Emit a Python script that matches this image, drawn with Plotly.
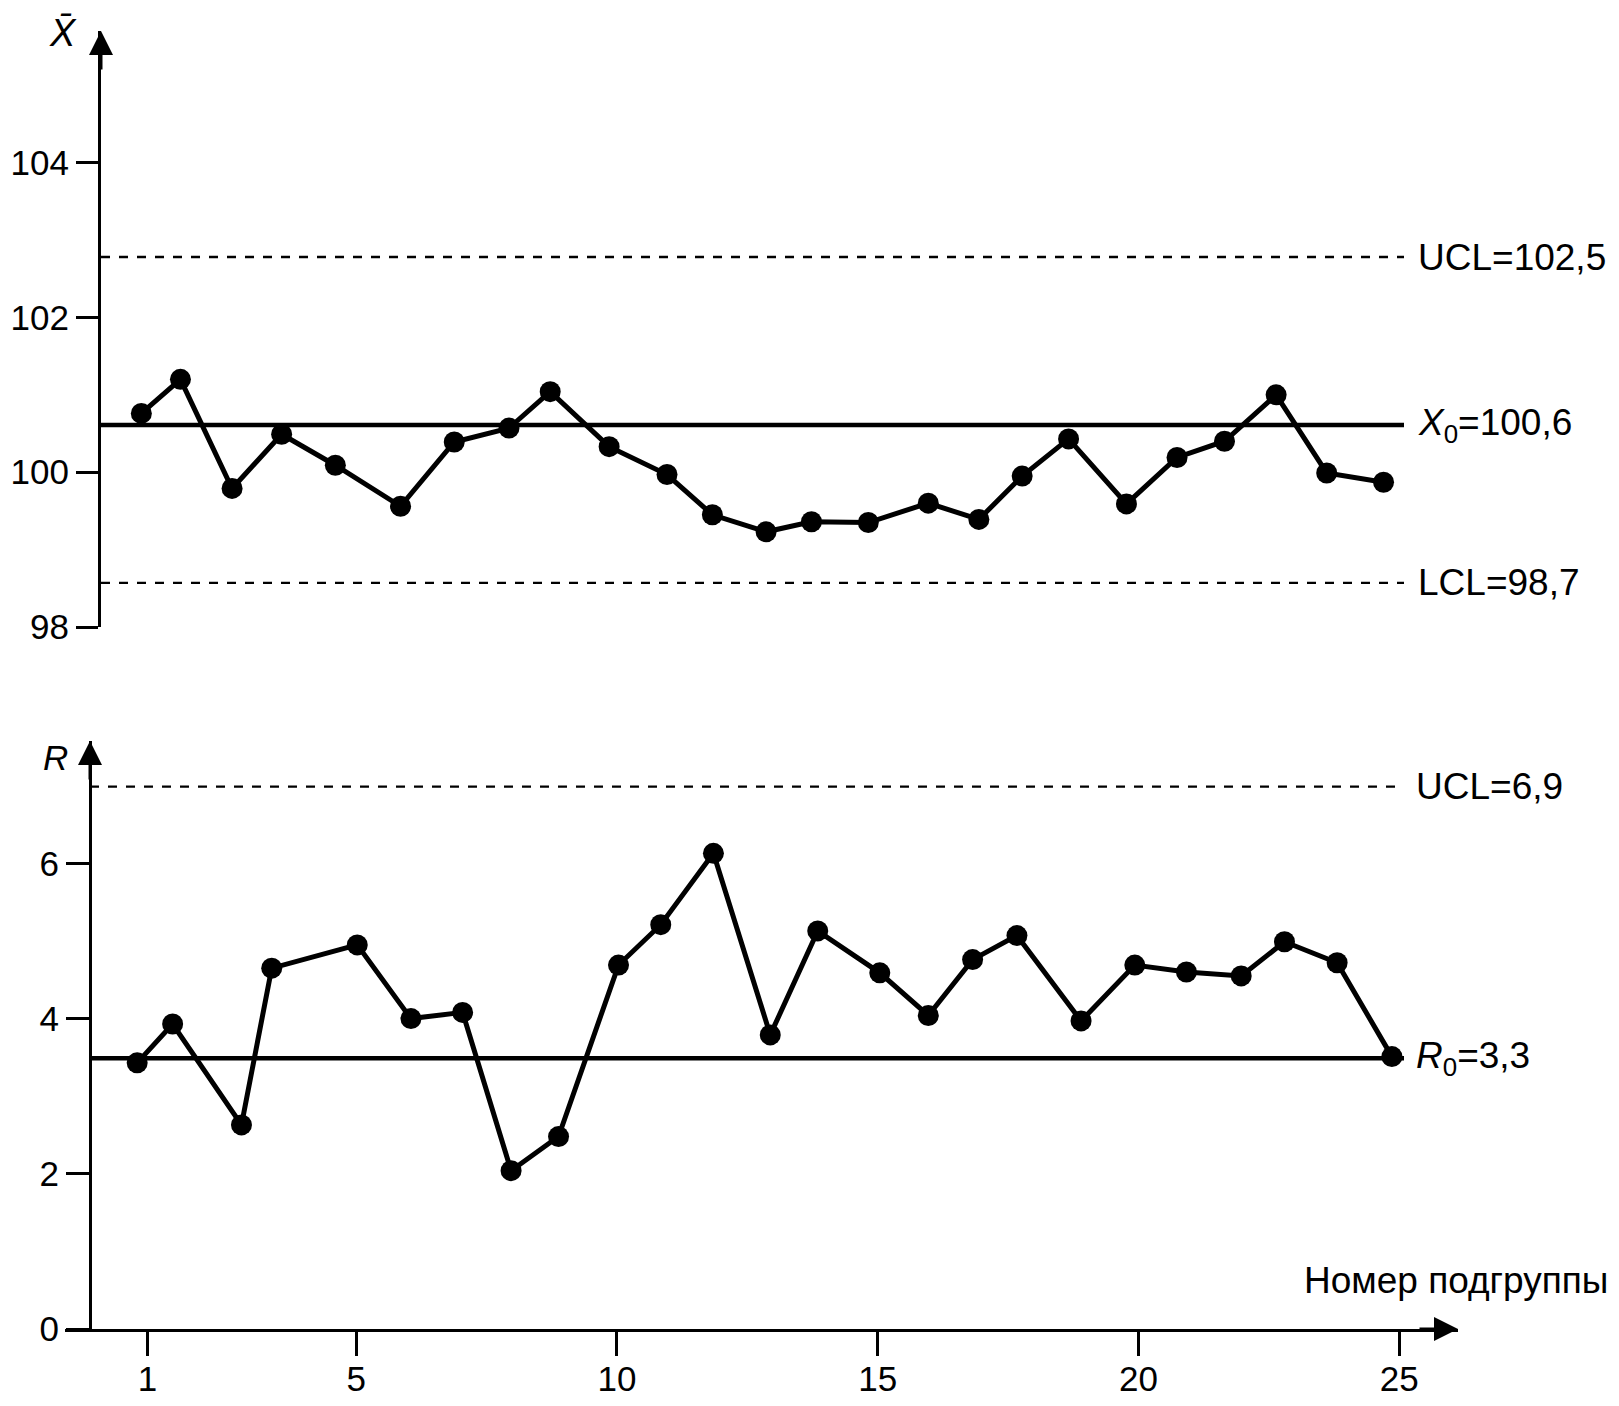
import plotly.graph_objects as go

W, H = 1619, 1406

# ---- data ----
xbar_groups = [0.88, 1.63, 2.62, 3.57, 4.60, 5.85, 6.88, 7.93, 8.72, 9.85, 10.96, 11.83, 12.86,
               13.73, 14.82, 15.97, 16.94, 17.77, 18.66, 19.77, 20.74, 21.65, 22.64, 23.61, 24.70]
xbar_values = [100.76, 101.2, 99.79, 100.49, 100.09, 99.56, 100.39, 100.57, 101.04, 100.33, 99.97,
               99.45, 99.23, 99.36, 99.35, 99.6, 99.39, 99.95, 100.43, 99.59, 100.19, 100.4, 101.0,
               99.99, 99.87]
r_groups = [0.80, 1.48, 2.80, 3.38, 5.02, 6.05, 7.04, 7.97, 8.88, 10.03, 10.84, 11.85, 12.94,
            13.85, 15.04, 15.97, 16.82, 17.67, 18.90, 19.93, 20.92, 21.97, 22.80, 23.81, 24.86]
r_values = [3.43, 3.93, 2.63, 4.65, 4.95, 4.0, 4.08, 2.04, 2.48, 4.69, 5.21, 6.13, 3.79, 5.13,
            4.59, 4.04, 4.76, 5.07, 3.97, 4.69, 4.6, 4.55, 4.99, 4.72, 3.51]

xbar_limits = {"ucl": 102.78, "center": 100.61, "lcl": 98.57}
xbar_labels = {"ucl": "UCL=102,5", "center": "<i>X</i><sub>0</sub>=100,6", "lcl": "LCL=98,7"}
r_limits = {"ucl": 6.99, "center": 3.49}
r_labels = {"ucl": "UCL=6,9", "center": "<i>R</i><sub>0</sub>=3,3"}

x_ticks = [1, 5, 10, 15, 20, 25]
xbar_ticks = [98, 100, 102, 104]
r_ticks = [0, 2, 4, 6]
x_title = "Номер подгруппы"

# ---- pixel calibration ----
PX1, PXU = 147.6, 52.15          # pixel of subgroup 1, pixels per subgroup


def n_at(px):
    return 1 + (px - PX1) / PXU


top_left, top_right = 101, 1410
bot_yaxis_px = 90
bot_left, bot_right = 65, 1458
line_end = n_at(1404)

top_y0px, top_y1px = 627, 31      # 98 at 627, arrow tip 31
top_ppu = 77.4
bot_y0px, bot_y1px = 1329, 741
bot_ppu = 77.6

FONT = "Liberation Sans, Arial, sans-serif"
LBL = 37

fig = go.Figure()

fig.add_trace(go.Scatter(
    x=xbar_groups, y=xbar_values, mode="lines+markers",
    line=dict(color="black", width=5),
    marker=dict(color="black", size=21),
    xaxis="x", yaxis="y", showlegend=False, cliponaxis=False))

fig.add_trace(go.Scatter(
    x=r_groups, y=r_values, mode="lines+markers",
    line=dict(color="black", width=5),
    marker=dict(color="black", size=21),
    xaxis="x2", yaxis="y2", showlegend=False, cliponaxis=False))

shapes = []
for key, dash, wdt in (("ucl", "dash", 2.4), ("center", "solid", 4.5), ("lcl", "dash", 2.4)):
    shapes.append(dict(type="line", xref="x", yref="y", x0=n_at(top_left), x1=line_end,
                       y0=xbar_limits[key], y1=xbar_limits[key],
                       line=dict(color="black", width=wdt, dash=dash), layer="below"))
for key, dash, wdt in (("ucl", "dash", 2.4), ("center", "solid", 4.5)):
    shapes.append(dict(type="line", xref="x2", yref="y2", x0=n_at(bot_yaxis_px), x1=line_end,
                       y0=r_limits[key], y1=r_limits[key],
                       line=dict(color="black", width=wdt, dash=dash), layer="below"))

annotations = []
for key in ("ucl", "center", "lcl"):
    annotations.append(dict(xref="paper", yref="y", x=1416 / W, y=xbar_limits[key],
                            xanchor="left", yanchor="middle", showarrow=False,
                            text=xbar_labels[key], font=dict(family=FONT, size=LBL, color="black")))
for key in ("ucl", "center"):
    annotations.append(dict(xref="paper", yref="y2", x=1414 / W, y=r_limits[key],
                            xanchor="left", yanchor="middle", showarrow=False,
                            text=r_labels[key], font=dict(family=FONT, size=LBL, color="black")))

# axis arrows
annotations.append(dict(xref="paper", yref="paper", x=top_left / W, y=1 - top_y1px / H,
                        ax=0, ay=40, showarrow=True, arrowhead=2, arrowsize=1.6,
                        arrowwidth=3, arrowcolor="black", text=""))
annotations.append(dict(xref="paper", yref="paper", x=bot_yaxis_px / W, y=1 - bot_y1px / H,
                        ax=0, ay=40, showarrow=True, arrowhead=2, arrowsize=1.6,
                        arrowwidth=3, arrowcolor="black", text=""))
annotations.append(dict(xref="paper", yref="paper", x=bot_right / W, y=1 - bot_y0px / H,
                        ax=-40, ay=0, showarrow=True, arrowhead=2, arrowsize=1.6,
                        arrowwidth=3, arrowcolor="black", text=""))

# axis titles
annotations.append(dict(xref="paper", yref="paper", x=63 / W, y=1 - 33 / H,
                        xanchor="center", yanchor="middle", showarrow=False,
                        text="<i>X̄</i>", font=dict(family=FONT, size=38, color="black")))
annotations.append(dict(xref="paper", yref="paper", x=55 / W, y=1 - 757 / H,
                        xanchor="center", yanchor="middle", showarrow=False,
                        text="<i>R</i>", font=dict(family=FONT, size=35, color="black")))
annotations.append(dict(xref="paper", yref="paper", x=1302 / W, y=1 - 1280 / H,
                        xanchor="left", yanchor="middle", showarrow=False,
                        text=x_title, font=dict(family=FONT, size=LBL, color="black")))

tickfont = dict(family=FONT, size=35, color="black")

fig.update_layout(
    width=W, height=H,
    margin=dict(l=0, r=0, t=0, b=0, autoexpand=False),
    paper_bgcolor="white", plot_bgcolor="white",
    font=dict(family=FONT, size=35, color="black"),
    shapes=shapes, annotations=annotations,
    xaxis=dict(domain=[top_left / W, top_right / W], range=[n_at(top_left), n_at(top_right)],
               anchor="y", visible=False, showgrid=False, zeroline=False, automargin=False),
    yaxis=dict(domain=[1 - top_y0px / H, 1 - top_y1px / H],
               range=[98, 98 + (top_y0px - top_y1px) / top_ppu],
               anchor="x", showline=True, linewidth=3, linecolor="black",
               ticks="outside", ticklen=22, tickwidth=2.5, tickcolor="black",
               tickvals=xbar_ticks, ticktext=[str(v) for v in xbar_ticks],
               tickfont=tickfont, showgrid=False, zeroline=False, automargin=False),
    xaxis2=dict(domain=[bot_left / W, bot_right / W], range=[n_at(bot_left), n_at(bot_right)],
                anchor="y2", showline=True, linewidth=3, linecolor="black",
                ticks="outside", ticklen=24, tickwidth=3, tickcolor="black",
                tickvals=x_ticks, ticktext=[str(v) for v in x_ticks],
                ticklabelstandoff=-7,
                tickfont=tickfont, showgrid=False, zeroline=False, automargin=False),
    yaxis2=dict(domain=[1 - bot_y0px / H, 1 - bot_y1px / H],
                range=[0, (bot_y0px - bot_y1px) / bot_ppu],
                anchor="free", position=bot_yaxis_px / W,
                showline=True, linewidth=3, linecolor="black",
                ticks="outside", ticklen=23, tickwidth=2.5, tickcolor="black",
                tickvals=r_ticks, ticktext=[str(v) for v in r_ticks],
                tickfont=tickfont, showgrid=False, zeroline=False, automargin=False),
)

fig.write_html("out.html")
